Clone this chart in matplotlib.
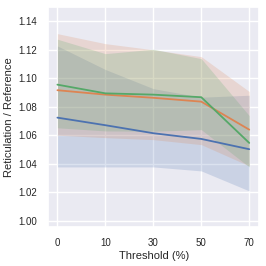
import numpy as np
import matplotlib
matplotlib.use("Agg")
import matplotlib.pyplot as plt
import seaborn as sns

sns.set_theme(style="darkgrid")
plt.rcParams['font.family'] = ['Liberation Sans', 'DejaVu Sans']

thresholds = ["0", "10", "30", "50", "70"]

blue_mean = [1.0723, 1.0670, 1.0614, 1.0574, 1.0502]
blue_lo = [1.0378, 1.0378, 1.0378, 1.0350, 1.0210]
blue_hi = [1.1225, 1.1060, 1.0926, 1.0866, 1.0880]

orange_mean = [1.0915, 1.0884, 1.0862, 1.0835, 1.0639]
orange_lo = [1.0600, 1.0583, 1.0569, 1.0534, 1.0385]
orange_hi = [1.1311, 1.1241, 1.1198, 1.1150, 1.0906]

green_mean = [1.0954, 1.0893, 1.0884, 1.0866, 1.0546]
green_lo = [1.0652, 1.0630, 1.0628, 1.0639, 1.0378]
green_hi = [1.1272, 1.1171, 1.1202, 1.1136, 1.0737]

colors = sns.color_palette("deep")

fig = plt.figure(figsize=(2.66, 2.66), dpi=100)
ax = fig.add_axes([0.1816, 0.148, 0.7932, 0.827])

x = np.arange(len(thresholds))
series = [(blue_mean, blue_lo, blue_hi, colors[0]),
          (orange_mean, orange_lo, orange_hi, colors[1]),
          (green_mean, green_lo, green_hi, colors[2])]
for mean, lo, hi, c in series:
    ax.fill_between(x, lo, hi, color=c, alpha=0.2, linewidth=0)
for mean, lo, hi, c in series:
    ax.plot(x, mean, color=c, linewidth=1.3)

ax.set_xticks(x)
ax.set_xticklabels(thresholds)
ax.set_yticks(np.arange(1.00, 1.141, 0.02))
ax.set_ylim(0.996, 1.15)
ax.set_xlim(-0.19, 4.21)
ax.grid(linewidth=1.0)
ax.tick_params(labelsize=7, pad=2, labelcolor="#262626")
ax.set_xlabel("Threshold (%)", fontsize=8, labelpad=2, color="#262626")
ax.set_ylabel("Reticulation / Reference", fontsize=8, labelpad=3, color="#262626")

fig.savefig("out.png", dpi=100)
